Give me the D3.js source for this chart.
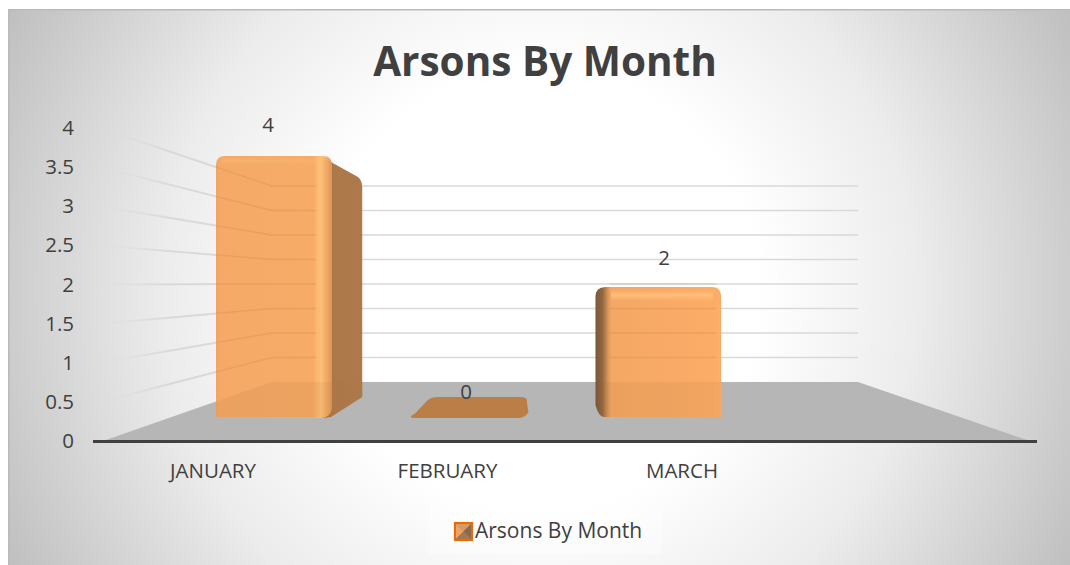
<!DOCTYPE html>
<html><head><meta charset="utf-8">
<script src="https://cdn.jsdelivr.net/npm/d3@7"></script>
<style>html,body{margin:0;padding:0;background:#fff}svg{display:block}text{font-family:"Open Sans",sans-serif;fill:#404040}</style>
</head><body><div id="c"></div>
<script>
const months = ["JANUARY","FEBRUARY","MARCH"];
const values = [4,0,2];
const ticks = [0,0.5,1,1.5,2,2.5,3,3.5,4];
const title = "Arsons By Month";
const seriesName = "Arsons By Month";

const W=1070,H=565;
const svg=d3.select("#c").append("svg").attr("width",W).attr("height",H);
const defs=svg.append("defs");
const bg=defs.append("radialGradient").attr("id","bg").attr("gradientUnits","userSpaceOnUse")
 .attr("cx",540).attr("cy",290).attr("r",610);
[[0,"#ffffff"],[0.36,"#ffffff"],[0.62,"#ececec"],[1,"#bdbdbd"]].forEach(s=>bg.append("stop").attr("offset",s[0]).attr("stop-color",s[1]));
function lin(id,x2,y2,stops){const g=defs.append("linearGradient").attr("id",id).attr("x1",0).attr("y1",0).attr("x2",x2).attr("y2",y2);
 stops.forEach(s=>g.append("stop").attr("offset",s[0]).attr("stop-color",s[1]).attr("stop-opacity",s[2]===undefined?1:s[2]));}
lin("frontJ",1,0,[[0,"#f2a25e"],[0.03,"#f5a763"],[0.84,"#f6a962"],[0.905,"#ffc47b"],[0.96,"#f3a761"],[1,"#dc955a"]]);
lin("sideJ",1,0,[[0,"#8f6339"],[0.35,"#ad7849"],[1,"#ad7a4d"]]);
lin("frontM",1,0,[[0,"#7a5534"],[0.055,"#8f643c"],[0.1,"#d99355"],[0.125,"#f4a561"],[1,"#fcab64"]]);
lin("bevelTop",0,1,[[0,"#ffb56c",0],[0.5,"#ffc27e",0.85],[1,"#ffc27e",0]]);
lin("bevelRight",1,0,[[0,"#ffc27e",0],[0.6,"#ffc27e",0.25],[1,"#e79f5c",0.8]]);
const fade=defs.append("linearGradient").attr("id","fade").attr("gradientUnits","userSpaceOnUse").attr("x1",96).attr("x2",170).attr("y1",0).attr("y2",0);
[[0,"#dcdcdc",0],[1,"#d9d9d9",1]].forEach(s=>fade.append("stop").attr("offset",s[0]).attr("stop-color",s[1]).attr("stop-opacity",s[2]));

svg.append("rect").attr("x",8).attr("y",9).attr("width",W-8).attr("height",H-9).attr("fill","url(#bg)");
svg.append("path").attr("d",`M8.75 565V9.75H${W}`).attr("fill","none").attr("stroke","#bababa").attr("stroke-width",1.5);

// scales
const yFront=d3.scaleLinear().domain([0,4]).range([441,128]);
const yBack=d3.scaleLinear().domain([0,4]).range([382,186]);
const yBarF=d3.scaleLinear().domain([0,4]).range([418,156]);
const yBarB=d3.scaleLinear().domain([0,4]).range([397,179]);
const xLabel=d3.scalePoint().domain(months).range([213,682]);
const xBar=d3.scalePoint().domain(months).range([273,664]);
const barW=114, vanish=534, depth=0.158;
const toBack=x=>x+(vanish-x)*depth;
const wall={fl:100,bl:272,br:858};
const floor={fl:103,fr:1030,bl:272,br:858};
const gridTicks=ticks.filter(t=>t>0);

// floor
svg.append("path").attr("d",d3.line()([[floor.fl,yFront(0)],[floor.bl,yBack(0)],[floor.br,yBack(0)],[floor.fr,yFront(0)]])+"Z").attr("fill","#b6b6b6");
// gridlines
const gl=svg.append("g").attr("fill","none");
gridTicks.forEach(t=>{
 gl.append("path").attr("d",d3.line()([[wall.bl,yBack(t)],[wall.br,yBack(t)]])).attr("stroke","#d9d9d9").attr("stroke-width",1.5);
 gl.append("path").attr("d",d3.line()([[wall.fl,yFront(t)],[wall.fl+0.1,yFront(t)],[wall.bl,yBack(t)]])).attr("stroke","url(#fade)").attr("stroke-width",2);
});
// axis
svg.append("line").attr("x1",93).attr("x2",1037).attr("y1",yFront(0)+0.5).attr("y2",yFront(0)+0.5).attr("stroke","#404040").attr("stroke-width",3);
// y tick labels
svg.append("g").selectAll("text").data(ticks).join("text").attr("x",74).attr("y",d=>yFront(d)+7).attr("text-anchor","end").attr("font-size",20.5).text(d=>d);
// x labels
svg.append("g").selectAll("text").data(months).join("text").attr("x",d=>xLabel(d)).attr("y",478).attr("text-anchor","middle").attr("font-size",20.5).text(d=>d);

// bars
const g=svg.append("g");
months.forEach((m,i)=>{
 const v=values[i], cx=xBar(m), l=cx-barW/2, r=cx+barW/2, tF=yBarF(v), bF=yBarF(0), tB=yBarB(v), bB=yBarB(0);
 if(v===0){
  const lb=toBack(l), rb=toBack(r);
  g.append("path").attr("d",`M${l+6} ${bF}Q${l-6} ${bF} ${l+3} ${bF-4}L${lb-3} ${bB+3}Q${lb} ${bB} ${lb+8} ${bB}L${rb-6} ${bB}Q${rb+1} ${bB} ${rb} ${bB+5}L${r+3} ${bF-6}Q${r} ${bF} ${r-8} ${bF}Z`).attr("fill","#bb7e47");
  return;
 }
 if(i===0){
  const sb=toBack(r);
  g.append("path").attr("d",`M${r-10} ${tF}L${sb-6} ${tB-3}Q${sb} ${tB} ${sb} ${tB+8}L${sb} ${bB}L${r+1} ${bF-1}Q${r-4} ${bF} ${r-12} ${bF}Z`).attr("fill","url(#sideJ)");
  g.append("path").attr("d",`M${l} ${bF}V${tF+9}Q${l} ${tF} ${l+9} ${tF}H${r-7}Q${r+2} ${tF} ${r+2} ${tF+9}V${bF-12}Q${r+2} ${bF} ${r-10} ${bF}Z`).attr("fill","url(#frontJ)").attr("fill-opacity",0.97);
  g.append("rect").attr("x",l+6).attr("y",tF+1).attr("width",barW-16).attr("height",8).attr("fill","url(#bevelTop)").attr("opacity",.35);
 } else {
  const sb=toBack(l);
  g.append("path").attr("d",`M${sb} ${tF+10}Q${sb} ${tF} ${sb+10} ${tF}H${r-9}Q${r} ${tF} ${r} ${tF+9}V${bF-1}H${sb+8}Q${sb+3} ${bF-2} ${sb} ${bB+8}Z`).attr("fill","url(#frontM)").attr("fill-opacity",0.98);
  g.append("rect").attr("x",l+4).attr("y",tF+2).attr("width",barW-12).attr("height",12).attr("fill","url(#bevelTop)");
  g.append("rect").attr("x",r-6).attr("y",tF+8).attr("width",6).attr("height",bF-tF-10).attr("fill","url(#bevelRight)").attr("opacity",.5);
 }
 // floor tone seen through the bar
 const x0 = i===0 ? l : toBack(l), x1 = i===0 ? toBack(r) : r;
 const y0=yBack(0), yEnd=i===0 ? bB+6 : bF-2;
 g.append("rect").attr("x",x0).attr("y",y0).attr("width",x1-x0).attr("height",(i===0?bF-4:yEnd)-y0)
  .attr("fill","#8a6a4c").attr("fill-opacity",0).attr("class","tone");
});
// translucent overlay of gridlines and floor edge over the bars
const gt=svg.append("g").attr("fill","none").attr("stroke","#b9814e").attr("stroke-opacity",.22).attr("stroke-width",1.3);
gridTicks.forEach(t=>{
 gt.append("path").attr("d",d3.line()([[216,yFront(t)+(yBack(t)-yFront(t))*(216-wall.fl)/(wall.bl-wall.fl)],[wall.bl,yBack(t)],[316,yBack(t)]]));
 if(t<=2) gt.append("line").attr("x1",610).attr("x2",716).attr("y1",yBack(t)).attr("y2",yBack(t));
});
const flo=svg.append("g").attr("fill","#a9753f").attr("fill-opacity",.1);
flo.append("path").attr("d",d3.line()([[216,yFront(0)+(yBack(0)-yFront(0))*(216-floor.fl)/(floor.bl-floor.fl)],[floor.bl,yBack(0)],[363,yBack(0)],[363,397],[331,417],[216,417]])+"Z");
flo.append("path").attr("d",d3.line()([[600,yBack(0)],[720,yBack(0)],[720,417],[606,417]])+"Z");
// data labels
const labelX=d3.scalePoint().domain(months).range([268,664]);
svg.append("g").selectAll("text").data(values).join("text").attr("x",(d,i)=>labelX(months[i])).attr("y",(d,i)=>[132,399,265][i]).attr("text-anchor","middle").attr("font-size",20.5).text(d=>d);
// title
svg.append("text").attr("x",545).attr("y",76).attr("text-anchor","middle").attr("font-size",40.5).attr("font-weight",700).text(title);
// legend
svg.append("rect").attr("x",428).attr("y",508).attr("width",234).attr("height",46).attr("fill","#ffffff").attr("fill-opacity",0.35);
const sw=svg.append("g");
sw.append("rect").attr("x",455).attr("y",523).attr("width",17).attr("height",17).attr("fill","#a8784c").attr("stroke","#e46c0a").attr("stroke-width",2.2);
sw.append("path").attr("d",d3.line()([[456,524],[471,524],[463.5,531.5]])).attr("fill","#d99a62");
sw.append("path").attr("d",d3.line()([[456,524],[463.5,531.5],[456,539]])).attr("fill","#eba566");
sw.append("path").attr("d",d3.line()([[471,524],[471,539],[463.5,531.5]])).attr("fill","#8a6a4c");
sw.append("path").attr("d",d3.line()([[456,539],[463.5,531.5],[471,539]])).attr("fill","#a8784c");
svg.append("text").attr("x",475).attr("y",538).attr("font-size",21).text(seriesName);
</script></body></html>
